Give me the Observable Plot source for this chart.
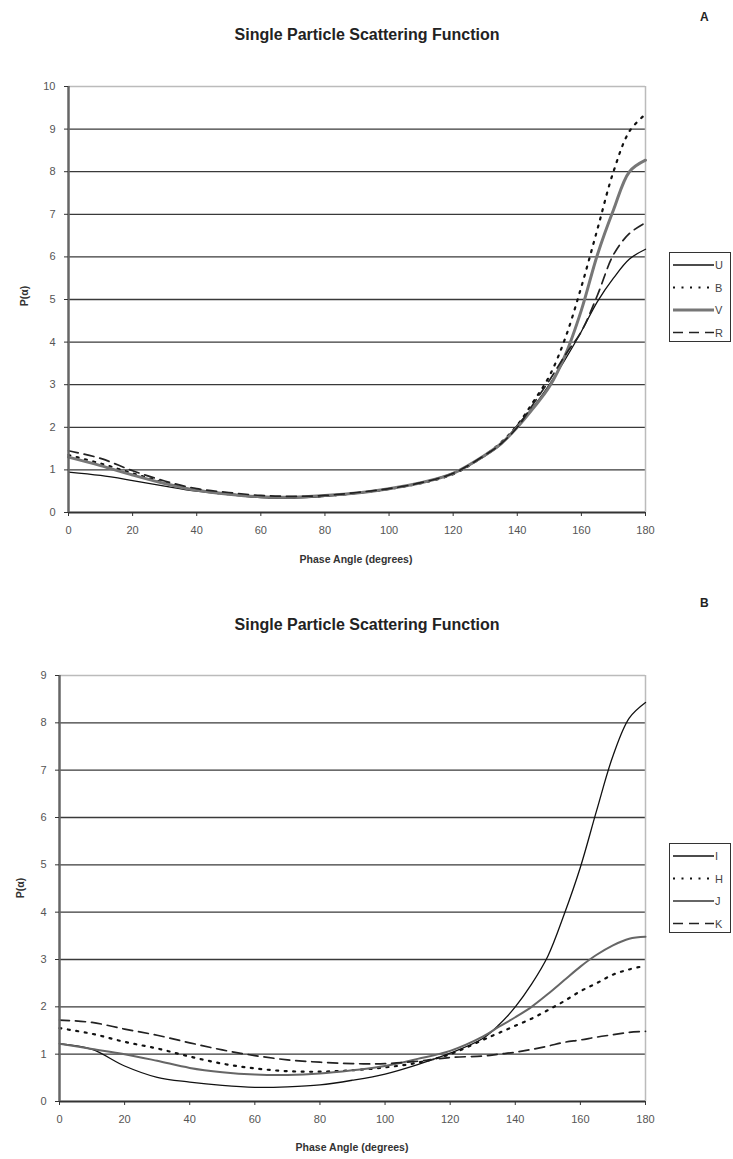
<!DOCTYPE html>
<html>
<head>
<meta charset="utf-8">
<script src="https://cdn.jsdelivr.net/npm/d3@7"></script>
<script src="https://cdn.jsdelivr.net/npm/@observablehq/plot@0.6"></script>
<style>
  body { margin: 0; background: #fff; }
  #page { position: relative; width: 733px; height: 1159px; font-family: "Liberation Sans", Arial, sans-serif; overflow: hidden; }
  .abs { position: absolute; }
  .title { font-weight: bold; font-size: 16px; color: #222; white-space: nowrap; transform: translateX(-50%); }
  .panel { font-weight: bold; font-size: 12px; color: #222; }
  .xlab { font-weight: bold; font-size: 10.5px; color: #333; white-space: nowrap; transform: translateX(-50%); }
  .ylab { font-weight: bold; font-size: 10.5px; color: #333; white-space: nowrap; transform: translate(-50%, -50%) rotate(-90deg); }
  .legend { border: 1.5px solid #333; background: #fff; }
</style>
</head>
<body>
<div id="page"></div>
<script>
// ---- data ----
const deg = [0,10,20,30,40,50,60,70,80,90,100,110,120,130,135,140,145,150,155,160,165,170,175,180];
// Panel A
const U = [0.95,0.87,0.75,0.62,0.50,0.42,0.35,0.34,0.38,0.45,0.55,0.70,0.93,1.33,1.60,2.05,2.48,3.00,3.60,4.25,4.95,5.50,5.95,6.18];
const B = [1.35,1.15,0.92,0.70,0.53,0.43,0.37,0.36,0.39,0.46,0.55,0.69,0.90,1.35,1.65,2.05,2.60,3.20,4.10,5.30,6.65,8.00,8.95,9.35];
const V = [1.30,1.10,0.88,0.68,0.52,0.43,0.37,0.36,0.40,0.46,0.56,0.70,0.92,1.35,1.62,2.00,2.45,2.95,3.70,4.75,6.05,7.10,8.00,8.27];
const R = [1.45,1.27,0.98,0.74,0.56,0.47,0.40,0.38,0.40,0.47,0.56,0.70,0.92,1.35,1.62,2.00,2.55,3.10,3.70,4.25,5.10,6.05,6.55,6.80];
// Panel B
const I = [1.22,1.10,0.75,0.51,0.41,0.34,0.30,0.31,0.35,0.45,0.58,0.78,1.02,1.33,1.62,2.00,2.48,3.07,3.95,4.95,6.15,7.30,8.10,8.43];
const H = [1.55,1.43,1.26,1.12,0.95,0.80,0.70,0.64,0.63,0.66,0.72,0.82,1.00,1.30,1.45,1.60,1.75,1.93,2.12,2.33,2.50,2.68,2.79,2.87];
const J = [1.22,1.11,1.00,0.86,0.71,0.62,0.57,0.56,0.59,0.66,0.75,0.90,1.07,1.37,1.58,1.78,2.00,2.27,2.56,2.85,3.10,3.30,3.44,3.48];
const K = [1.72,1.67,1.53,1.40,1.24,1.09,0.97,0.88,0.83,0.80,0.80,0.85,0.93,0.96,1.00,1.04,1.10,1.17,1.25,1.30,1.36,1.41,1.46,1.48];

const namesA = ["U","B","V","R"];
const namesB = ["I","H","J","K"];
const xTicks = [0,20,40,60,80,100,120,140,160,180];
const yTicksA = [0,1,2,3,4,5,6,7,8,9,10];
const yTicksB = [0,1,2,3,4,5,6,7,8,9];
const titleText = "Single Particle Scattering Function";
const xTitle = "Phase Angle (degrees)";
const yTitle = "P(\u03b1)";

// ---- styles ----
const styles = {
  solid:  {stroke: "#111", strokeWidth: 1.3},
  dotted: {stroke: "#111", strokeWidth: 2.2, strokeDasharray: "2,6.5"},
  thick:  {stroke: "#777", strokeWidth: 3},
  gray:   {stroke: "#666", strokeWidth: 2},
  dashed: {stroke: "#222", strokeWidth: 1.7, strokeDasharray: "10,6"}
};

const page = document.getElementById("page");

function addDiv(cls, text, left, top) {
  const d = document.createElement("div");
  d.className = "abs " + cls;
  d.textContent = text;
  d.style.left = left + "px";
  d.style.top = top + "px";
  page.appendChild(d);
  return d;
}

function makeChart({series, yMax, yTicks, marginLeft, top}) {
  const rows = series.flatMap(s => deg.map((d, i) => ({deg: d, val: s.values[i], name: s.name})));
  const plot = Plot.plot({
    width: 660,
    height: 482,
    marginLeft,
    marginRight: 15,
    marginTop: 16,
    marginBottom: 40,
    x: {domain: [0, 180]},
    y: {domain: [0, yMax]},
    style: {fontFamily: "'Liberation Sans', Arial, sans-serif", fontSize: "11px", color: "#555", background: "transparent"},
    marks: [
      Plot.ruleY(yTicks.filter(t => t > 0 && t < yMax), {stroke: "#3a3a3a", strokeWidth: 1.3}),
      Plot.ruleY([yMax], {stroke: "#bbb", strokeWidth: 1.5}),
      Plot.ruleX([180], {stroke: "#bbb", strokeWidth: 1.5}),
      ...series.map(s => Plot.line(rows.filter(r => r.name === s.name), {
        x: "deg", y: "val", curve: "catmull-rom", ...styles[s.style]
      })),
      Plot.ruleY([0], {stroke: "#333", strokeWidth: 2}),
      Plot.ruleX([0], {stroke: "#666", strokeWidth: 2.5}),
      Plot.axisX({ticks: xTicks, tickSize: 4, tickPadding: 10, label: null, stroke: "#333"}),
      Plot.axisY({ticks: yTicks, tickSize: 4, tickPadding: 9, label: null, stroke: "#333"})
    ]
  });
  plot.style.position = "absolute";
  plot.style.left = "0px";
  plot.style.top = top + "px";
  page.appendChild(plot);
}

function makeLegend(series, left, top) {
  const box = document.createElement("div");
  box.className = "abs legend";
  box.style.left = left + "px";
  box.style.top = top + "px";
  box.style.width = "60px";
  box.style.height = "88px";
  page.appendChild(box);
  const svg = d3.select(box).append("svg").attr("width", 60).attr("height", 88);
  series.forEach((s, i) => {
    const y = 12 + i * 22.5;
    const st = styles[s.style];
    svg.append("line").attr("x1", 3).attr("x2", 44).attr("y1", y).attr("y2", y)
      .attr("stroke", st.stroke).attr("stroke-width", st.strokeWidth)
      .attr("stroke-dasharray", st.strokeDasharray || null);
    svg.append("text").attr("x", 45).attr("y", y + 4).text(s.name)
      .attr("font-family", "'Liberation Sans', Arial, sans-serif").attr("font-size", 11)
      .attr("fill", "#444");
  });
}

const seriesA = [
  {name: namesA[0], values: U, style: "solid"},
  {name: namesA[1], values: B, style: "dotted"},
  {name: namesA[2], values: V, style: "thick"},
  {name: namesA[3], values: R, style: "dashed"}
];
const seriesB = [
  {name: namesB[0], values: I, style: "solid"},
  {name: namesB[1], values: H, style: "dotted"},
  {name: namesB[2], values: J, style: "gray"},
  {name: namesB[3], values: K, style: "dashed"}
];

// Panel A
makeChart({series: seriesA, yMax: 10, yTicks: yTicksA, marginLeft: 68, top: 70});
addDiv("title", titleText, 367, 26);
addDiv("panel", "A", 700, 10);
addDiv("xlab", xTitle, 356, 553);
addDiv("ylab", yTitle, 24, 296);
makeLegend(seriesA, 669, 252);

// Panel B
makeChart({series: seriesB, yMax: 9, yTicks: yTicksB, marginLeft: 59, top: 659});
addDiv("title", titleText, 367, 616);
addDiv("panel", "B", 700, 596);
addDiv("xlab", xTitle, 352, 1141);
addDiv("ylab", yTitle, 20, 888);
makeLegend(seriesB, 669, 843);
</script>
</body>
</html>
